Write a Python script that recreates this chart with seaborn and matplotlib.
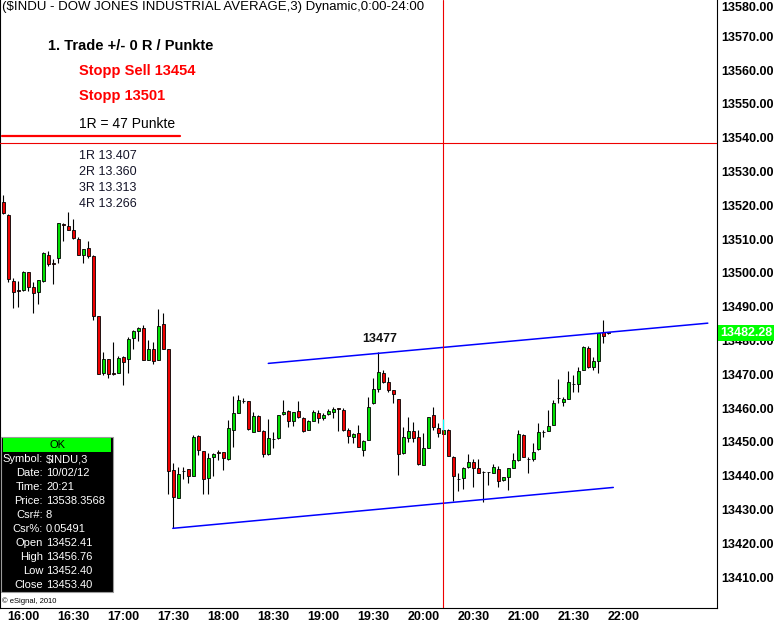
import matplotlib
matplotlib.use("Agg")
import matplotlib.pyplot as plt
import matplotlib.transforms as mtransforms
from matplotlib.patches import Rectangle
import seaborn as sns

# 3-minute bars of $INDU, first bar 15:48, bar index = position on the chart
opens = [
    13521.0, 13517.2, 13497.6, 13494.8, 13494.9, 13500.2, 13495.8, 13494.2, 13497.7, 13505.4,
    13502.9, 13504.4, 13514.4, 13513.7, 13512.7, 13509.9, 13505.2, 13507.2, 13505.0, 13487.1,
    13470.3, 13474.4, 13470.3, 13470.4, 13475.0, 13474.4, 13480.6, 13482.8, 13483.8, 13474.3,
    13477.4, 13474.3, 13484.8, 13477.5, 13441.7, 13433.4, 13441.5, 13441.9, 13439.9, 13451.8,
    13447.3, 13439.4, 13445.4, 13446.9, 13446.9, 13444.9, 13453.6, 13458.6, 13462.2, 13462.1,
    13452.9, 13457.6, 13453.2, 13446.4, 13450.8, 13451.0, 13458.1, 13459.1, 13456.2, 13459.1,
    13457.1, 13453.6, 13456.2, 13458.6, 13456.9, 13458.1, 13458.7, 13459.9, 13459.4, 13453.5,
    13451.5, 13452.6, 13447.6, 13450.5, 13461.4, 13465.5, 13470.4, 13467.6, 13465.2, 13462.7,
    13446.6, 13451.2, 13453.1, 13451.5, 13443.1, 13448.3, 13457.9, 13454.1, 13452.41, 13453.5,
    13445.6, 13439.0, 13439.3, 13442.4, 13443.9, 13442.2, 13441.2, 13441.1, 13440.8, 13441.9,
    13438.6, 13439.7, 13442.3, 13444.5, 13452.1, 13445.0, 13444.9, 13447.8, 13452.9, 13453.2,
    13455.1, 13463.1, 13461.9, 13462.8, 13467.1, 13467.0, 13471.2, 13477.7, 13472.0, 13474.0,
    13482.4, 13482.35,
]
highs = [
    13523.0, 13517.5, 13498.4, 13497.6, 13500.4, 13500.3, 13497.4, 13497.9, 13506.3, 13506.5,
    13504.1, 13514.8, 13514.7, 13518.0, 13515.9, 13510.7, 13507.0, 13509.4, 13505.2, 13487.3,
    13476.7, 13474.5, 13479.5, 13475.5, 13475.3, 13480.9, 13483.1, 13484.1, 13484.6, 13480.1,
    13479.4, 13489.2, 13488.1, 13477.6, 13443.8, 13442.6, 13442.4, 13442.1, 13452.1, 13451.9,
    13447.4, 13446.6, 13446.7, 13447.6, 13447.0, 13456.5, 13463.6, 13463.9, 13462.9, 13462.2,
    13458.7, 13457.8, 13453.4, 13456.8, 13452.9, 13458.0, 13462.4, 13459.3, 13458.8, 13462.2,
    13457.2, 13456.4, 13459.4, 13459.4, 13458.6, 13459.6, 13460.4, 13460.0, 13459.9, 13454.0,
    13452.5, 13455.0, 13450.4, 13463.4, 13468.9, 13476.5, 13471.2, 13469.2, 13465.3, 13462.8,
    13454.5, 13457.2, 13455.9, 13453.5, 13452.7, 13457.3, 13460.2, 13455.6, 13456.76, 13453.7,
    13445.7, 13440.9, 13442.4, 13446.3, 13444.8, 13445.0, 13441.3, 13441.2, 13443.3, 13442.7,
    13439.7, 13442.3, 13446.6, 13453.5, 13452.2, 13445.6, 13449.6, 13455.5, 13453.5, 13459.4,
    13462.4, 13468.6, 13463.4, 13470.9, 13469.7, 13472.2, 13478.4, 13478.2, 13475.2, 13482.3,
    13486.1, 13482.45,
]
lows = [
    13517.5, 13497.2, 13489.7, 13489.9, 13494.6, 13494.7, 13488.2, 13490.9, 13497.4, 13502.0,
    13496.6, 13502.8, 13509.5, 13512.7, 13510.1, 13505.2, 13503.0, 13504.3, 13486.0, 13470.1,
    13469.8, 13468.8, 13469.9, 13470.3, 13466.8, 13470.3, 13477.6, 13479.8, 13474.2, 13474.2,
    13472.9, 13474.2, 13477.5, 13434.7, 13424.6, 13433.3, 13439.1, 13437.8, 13439.8, 13446.2,
    13434.5, 13434.5, 13439.8, 13444.6, 13441.6, 13444.6, 13448.5, 13458.5, 13461.4, 13453.6,
    13452.8, 13453.1, 13445.6, 13446.1, 13448.3, 13450.9, 13457.9, 13454.4, 13454.7, 13457.1,
    13452.9, 13453.5, 13456.1, 13455.6, 13456.4, 13458.0, 13457.1, 13453.2, 13453.3, 13449.6,
    13449.7, 13448.5, 13445.8, 13450.4, 13461.3, 13464.8, 13467.3, 13464.8, 13461.4, 13440.1,
    13446.5, 13449.9, 13449.9, 13443.2, 13443.0, 13448.2, 13453.6, 13451.3, 13452.40, 13445.7,
    13432.4, 13435.5, 13436.1, 13442.3, 13436.6, 13440.7, 13432.3, 13437.3, 13440.7, 13436.6,
    13438.3, 13435.8, 13442.2, 13444.4, 13445.5, 13440.8, 13444.4, 13447.7, 13451.5, 13453.1,
    13455.0, 13461.5, 13460.6, 13462.7, 13464.8, 13464.7, 13471.1, 13471.9, 13471.2, 13470.3,
    13479.1, 13482.0,
]
closes = [
    13517.6, 13498.3, 13494.4, 13494.6, 13500.2, 13495.7, 13493.9, 13497.8, 13506.0, 13502.5,
    13502.7, 13514.7, 13514.2, 13512.8, 13510.2, 13505.4, 13506.9, 13505.0, 13487.1, 13470.2,
    13474.4, 13470.0, 13470.2, 13474.7, 13473.7, 13480.5, 13482.8, 13483.8, 13474.3, 13477.4,
    13473.8, 13484.3, 13477.6, 13441.3, 13433.8, 13440.5, 13441.3, 13439.9, 13451.5, 13447.5,
    13438.9, 13445.1, 13446.4, 13446.8, 13445.1, 13454.0, 13458.4, 13462.4, 13462.1, 13453.7,
    13457.6, 13453.2, 13446.3, 13451.1, 13450.7, 13457.9, 13458.7, 13456.2, 13458.7, 13457.2,
    13453.2, 13456.1, 13458.7, 13456.9, 13457.9, 13459.1, 13459.7, 13459.8, 13453.4, 13451.8,
    13452.3, 13448.6, 13450.3, 13460.2, 13465.6, 13470.6, 13467.7, 13465.3, 13464.2, 13446.3,
    13451.3, 13453.1, 13451.2, 13443.3, 13448.3, 13457.2, 13454.4, 13452.5, 13453.40, 13445.8,
    13440.0, 13438.9, 13442.3, 13444.0, 13442.3, 13440.8, 13441.1, 13441.0, 13442.5, 13438.5,
    13439.6, 13442.2, 13444.6, 13452.3, 13445.6, 13444.8, 13446.9, 13452.9, 13452.8, 13454.7,
    13461.4, 13463.0, 13462.7, 13467.6, 13467.0, 13470.9, 13478.0, 13472.0, 13473.9, 13482.2,
    13481.4, 13482.28,
]

tick_bars = [4, 14, 24, 34, 44, 54, 64, 74, 84, 94, 104, 114, 124]
tick_labels = ["16:00", "16:30", "17:00", "17:30", "18:00", "18:30", "19:00",
               "19:30", "20:00", "20:30", "21:00", "21:30", "22:00"]
price_ticks = [13410, 13420, 13430, 13440, 13450, 13460, 13470, 13480, 13490,
               13500, 13510, 13520, 13530, 13540, 13550, 13560, 13570, 13580]

# trend channel drawn on the chart
upper_channel_x = [53.0, 140.9]
upper_channel_y = [13473.2, 13485.1]
lower_channel_x = [33.9, 122.0]
lower_channel_y = [13424.4, 13436.5]

crosshair_bar = 88
crosshair_price = 13538.36
last_price = 13482.28
peak_bar = 75
peak_label = "13477"

title = r"(\$INDU - DOW JONES INDUSTRIAL AVERAGE,3) Dynamic,0:00-24:00"
r_levels = ["1R 13.407", "2R 13.360", "3R 13.313", "4R 13.266"]
info_labels = ["Symbol:", "Date:", "Time:", "Price:", "Csr#:", "Csr%:",
               "Open", "High", "Low", "Close"]
info_values = [r"\$INDU,3", "10/02/12", "20:21", "13538.3568", "8", "0.05491",
               "13452.41", "13456.76", "13452.40", "13453.40"]

W, H = 777, 625
UP, DOWN = "#00e000", "#ee0000"


def px(x, y):
    """pixel position (top-left origin) -> figure fraction"""
    return x / W, 1 - y / H


sns.set_theme(style="white")
plt.rcParams["font.family"] = ["Liberation Sans", "DejaVu Sans"]

fig = plt.figure(figsize=(W / 100, H / 100), dpi=100, facecolor="white")
ax = fig.add_axes([0, 17 / H, 717 / W, 608 / H])
ax.set_facecolor("white")

bars = list(range(len(opens)))
body_lo = [min(o, c) for o, c in zip(opens, closes)]
body_h = [max(abs(c - o), 0.08) for o, c in zip(opens, closes)]
body_col = [UP if c >= o else DOWN for o, c in zip(opens, closes)]

ax.vlines(bars, lows, highs, color="black", linewidth=0.8, zorder=2)
ax.bar(bars, body_h, bottom=body_lo, width=0.62, color=body_col,
       edgecolor="black", linewidth=0.6, zorder=3)

# channel lines
sns.lineplot(x=upper_channel_x, y=upper_channel_y, color="#0000ff", linewidth=1.1, ax=ax, zorder=4)
sns.lineplot(x=lower_channel_x, y=lower_channel_y, color="#0000ff", linewidth=1.1, ax=ax, zorder=4)

# cursor crosshair
ax.axhline(crosshair_price, color="#ee0000", linewidth=0.8, zorder=5)
ax.axvline(crosshair_bar, color="#ee0000", linewidth=0.8, zorder=5)
ax.vlines(crosshair_bar, max(opens[crosshair_bar], closes[crosshair_bar]),
          highs[crosshair_bar], color="#00ffff", linewidth=0.8, zorder=6)

ax.annotate(peak_label, xy=(peak_bar, highs[peak_bar]), xytext=(1, 5),
            textcoords="offset points", ha="center", va="bottom",
            fontsize=9, fontweight="bold", color="#111111")

ax.set_xlim(-0.66, 142.74)
ax.set_ylim(13400.83, 13580.71)

ax.set_xticks(tick_bars)
ax.set_xticklabels(tick_labels)
ax.yaxis.tick_right()
ax.set_yticks(price_ticks)
ax.set_yticklabels([f"{p:.2f}" for p in price_ticks])
ax.tick_params(axis="x", length=0, pad=2, labelsize=9, colors="black")
ax.tick_params(axis="y", length=0, pad=3, labelsize=9, colors="black")
for lab in ax.get_xticklabels() + ax.get_yticklabels():
    lab.set_fontweight("bold")
# top price label sits right at the edge: keep it inside like the platform does
ax.get_yticklabels()[-1].set_va("top")
ax.grid(False)
for side in ["left", "right", "bottom"]:
    ax.spines[side].set_visible(True)
    ax.spines[side].set_color("black")
    ax.spines[side].set_linewidth(0.8)
ax.spines["top"].set_visible(False)

# last price box on the price scale
blend = mtransforms.blended_transform_factory(ax.transAxes, ax.transData)
ax.text(1.004, last_price, f"{last_price:.2f}", transform=blend, ha="left", va="center",
        fontsize=9, fontweight="bold", color="white", zorder=10, clip_on=False,
        bbox=dict(boxstyle="square,pad=0.15", facecolor="#00ff00", edgecolor="none"))

# header texts
fig.text(*px(2, 7), title, ha="left", va="center", fontsize=9.5, color="black")
fig.text(*px(48, 46), "1. Trade +/- 0 R / Punkte", ha="left", va="center",
         fontsize=10.5, fontweight="bold", color="black")
fig.text(*px(79, 71), "Stopp Sell 13454", ha="left", va="center",
         fontsize=10.5, fontweight="bold", color="#ff0000")
fig.text(*px(79, 96), "Stopp 13501", ha="left", va="center",
         fontsize=10.5, fontweight="bold", color="#ff0000")
fig.text(*px(79, 124), "1R = 47 Punkte", ha="left", va="center",
         fontsize=10, color="black")
x0, y0 = px(2, 136)
x1, _ = px(180, 136)
fig.add_artist(plt.Line2D([x0, x1], [y0, y0], color="#ff0000", linewidth=1.6,
                          transform=fig.transFigure))
for k, txt in enumerate(r_levels):
    fig.text(*px(79, 156 + 16 * k), txt, ha="left", va="center", fontsize=9, color="#141428")

# data window
bx, by = px(1, 592)
fig.add_artist(Rectangle((bx, by), 112 / W, 155 / H, transform=fig.transFigure,
                         facecolor="black", edgecolor="#9a9a9a", linewidth=0.8, zorder=8))
hx, hy = px(3, 452)
fig.add_artist(Rectangle((hx, hy), 108 / W, 14 / H, transform=fig.transFigure,
                         facecolor="#00ff00", edgecolor="none", zorder=9))
fig.text(*px(57, 445), "OK", ha="center", va="center", fontsize=8, color="black", zorder=10)
for k, (lab, val) in enumerate(zip(info_labels, info_values)):
    yy = 459 + 14 * k
    fig.text(*px(43, yy), lab, ha="right", va="center", fontsize=8, color="white", zorder=10)
    fig.text(*px(46, yy), val, ha="left", va="center", fontsize=8, color="white", zorder=10)

fig.text(*px(2, 601), "\u00a9 eSignal, 2010", ha="left", va="center", fontsize=5.5, color="black")

fig.savefig("out.png", dpi=100, facecolor="white")
